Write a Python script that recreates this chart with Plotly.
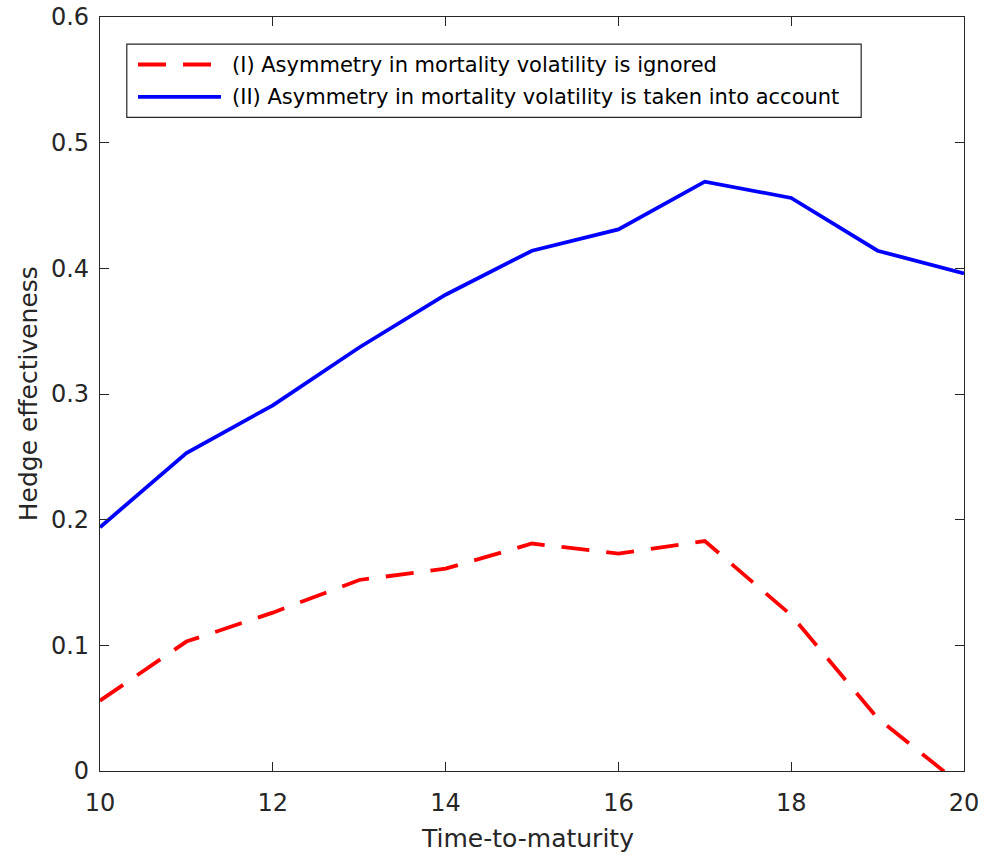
import plotly.graph_objects as go

# Hedge effectiveness by time-to-maturity for the two model specifications
maturity = [10, 11, 12, 13, 14, 15, 16, 17, 18, 19, 20]
effect_ignored = [0.056, 0.103, 0.126, 0.152, 0.161, 0.181, 0.173, 0.183, 0.124, 0.042, -0.013]
effect_asym = [0.194, 0.253, 0.291, 0.337, 0.379, 0.414, 0.431, 0.469, 0.456, 0.414, 0.396]

name_ignored = "(I) Asymmetry in mortality volatility is ignored"
name_asym = "(II) Asymmetry in mortality volatility is taken into account"

x_ticks = [10, 12, 14, 16, 18, 20]
y_ticks = [0, 0.1, 0.2, 0.3, 0.4, 0.5, 0.6]

font_family = "DejaVu Sans, Liberation Sans, Arial, sans-serif"
axis_color = "#262626"
red_line = dict(color="#ff0000", width=3.8, dash="28px,17px")
blue_line = dict(color="#0000ff", width=3.8)

fig = go.Figure()
fig.add_trace(go.Scatter(x=maturity, y=effect_ignored, mode="lines", name=name_ignored,
                         line=red_line, showlegend=False))
fig.add_trace(go.Scatter(x=maturity, y=effect_asym, mode="lines", name=name_asym,
                         line=blue_line, showlegend=False))

axis_common = dict(
    showgrid=False, zeroline=False, showline=True, linecolor=axis_color,
    linewidth=1.2, mirror="ticks", ticks="inside", ticklen=9, tickwidth=1.2,
    tickcolor=axis_color, automargin=False,
    tickfont=dict(size=24, color=axis_color, family=font_family),
)

# Boxed legend in the upper-left corner of the axes
leg_x0, leg_x1, leg_y0, leg_y1 = 0.031, 0.881, 0.867, 0.964
sample_x0, sample_x1, text_x = 0.044, 0.140, 0.150
rows = [(0.937, red_line, name_ignored), (0.894, blue_line, name_asym)]

shapes = [dict(type="rect", xref="paper", yref="paper", x0=leg_x0, x1=leg_x1, y0=leg_y0, y1=leg_y1,
               line=dict(color=axis_color, width=1.2), fillcolor="white", layer="above")]
annotations = []
for y, style, label in rows:
    shapes.append(dict(type="line", xref="paper", yref="paper", x0=sample_x0, x1=sample_x1,
                       y0=y, y1=y, line=style, layer="above"))
    annotations.append(dict(x=text_x, y=y, xref="paper", yref="paper", text=label,
                            showarrow=False, xanchor="left", yanchor="middle",
                            font=dict(size=21, color="black", family=font_family)))

annotations.append(dict(x=0.495, y=-0.089, xref="paper", yref="paper", text="Time-to-maturity",
                        showarrow=False, xanchor="center", yanchor="middle",
                        font=dict(size=25, color=axis_color, family=font_family)))
annotations.append(dict(x=-0.083, y=0.5, xref="paper", yref="paper", text="Hedge effectiveness",
                        showarrow=False, xanchor="center", yanchor="middle", textangle=-90,
                        font=dict(size=25, color=axis_color, family=font_family)))

fig.update_layout(
    width=984, height=859,
    margin=dict(l=100, r=20, t=17, b=88),
    paper_bgcolor="white", plot_bgcolor="white",
    font=dict(family=font_family, color=axis_color),
    xaxis=dict(range=[10, 20], tickvals=x_ticks, ticktext=[str(v) for v in x_ticks],
               ticklabelstandoff=10, **axis_common),
    yaxis=dict(range=[0, 0.6], tickvals=y_ticks,
               ticktext=["0"] + [f"{v:.1f}" for v in y_ticks[1:]],
               ticklabelstandoff=5, **axis_common),
    shapes=shapes,
    annotations=annotations,
    showlegend=False,
)

fig.write_html("out.html")
